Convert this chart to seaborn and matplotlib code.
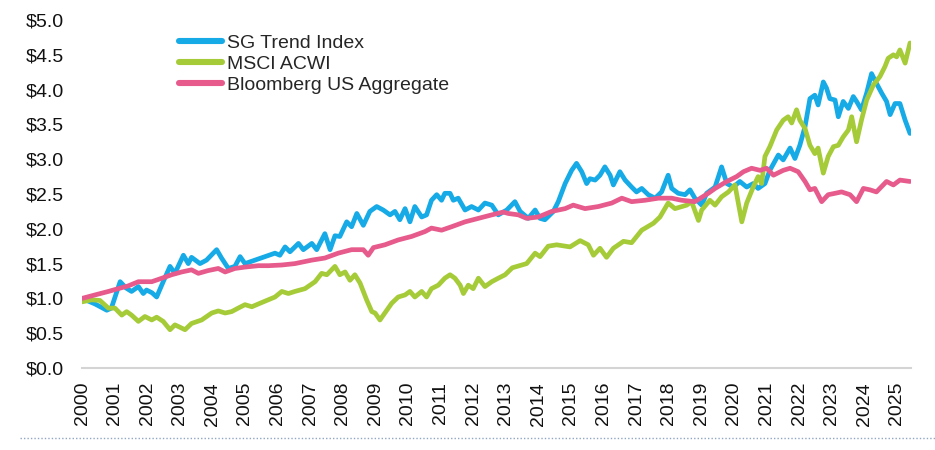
import numpy as np
import pandas as pd
import matplotlib
matplotlib.use("Agg")
import matplotlib.pyplot as plt
from matplotlib.lines import Line2D
import seaborn as sns

# ---------------- data ----------------
series_names = ["SG Trend Index", "MSCI ACWI", "Bloomberg US Aggregate"]
series_colors = ["#16AAE6", "#A6CB38", "#E65A8C"]

sg_years = [2000.00, 2000.40, 2000.76, 2000.90, 2001.17, 2001.35, 2001.52, 2001.73, 2001.88, 2001.98,
            2002.15, 2002.29, 2002.50, 2002.70, 2002.85, 2003.11, 2003.26, 2003.36, 2003.62, 2003.82,
            2004.13, 2004.28, 2004.49, 2004.69, 2004.85, 2005.00, 2005.31, 2005.61, 2005.92, 2006.07,
            2006.23, 2006.38, 2006.64, 2006.79, 2007.05, 2007.20, 2007.45, 2007.61, 2007.76, 2007.91,
            2008.12, 2008.27, 2008.43, 2008.63, 2008.83, 2009.04, 2009.24, 2009.45, 2009.60, 2009.75,
            2009.91, 2010.06, 2010.21, 2010.42, 2010.57, 2010.72, 2010.88, 2011.03, 2011.13, 2011.29,
            2011.39, 2011.54, 2011.75, 2011.95, 2012.16, 2012.36, 2012.57, 2012.77, 2013.03, 2013.28,
            2013.44, 2013.69, 2013.90, 2014.05, 2014.20, 2014.46, 2014.61, 2014.82, 2015.02, 2015.17,
            2015.33, 2015.48, 2015.58, 2015.74, 2015.89, 2016.04, 2016.20, 2016.30, 2016.50, 2016.66,
            2016.86, 2017.01, 2017.17, 2017.37, 2017.58, 2017.78, 2017.98, 2018.09, 2018.29, 2018.50,
            2018.65, 2018.80, 2019.01, 2019.16, 2019.42, 2019.62, 2019.78, 2019.98, 2020.18, 2020.39,
            2020.59, 2020.74, 2020.95, 2021.10, 2021.36, 2021.51, 2021.72, 2021.87, 2022.02, 2022.18,
            2022.33, 2022.48, 2022.58, 2022.74, 2022.84, 2022.94, 2023.10, 2023.20, 2023.35, 2023.51,
            2023.66, 2023.76, 2023.91, 2024.07, 2024.22, 2024.37, 2024.53, 2024.68, 2024.79, 2024.94,
            2025.09, 2025.25, 2025.40]
sg_values = [1.00, 0.92, 0.83, 0.86, 1.24, 1.15, 1.10, 1.17, 1.07, 1.12,
             1.08, 1.02, 1.25, 1.46, 1.36, 1.62, 1.50, 1.59, 1.50, 1.55,
             1.70, 1.58, 1.43, 1.46, 1.60, 1.50, 1.55, 1.60, 1.65, 1.62,
             1.74, 1.67, 1.79, 1.70, 1.79, 1.70, 1.93, 1.70, 1.90, 1.89,
             2.10, 2.03, 2.22, 2.05, 2.25, 2.32, 2.27, 2.20, 2.25, 2.13,
             2.29, 2.10, 2.32, 2.17, 2.20, 2.41, 2.49, 2.41, 2.51, 2.51,
             2.41, 2.44, 2.27, 2.32, 2.27, 2.37, 2.34, 2.20, 2.27, 2.39,
             2.25, 2.15, 2.27, 2.15, 2.13, 2.25, 2.39, 2.65, 2.84, 2.94,
             2.82, 2.65, 2.72, 2.70, 2.77, 2.89, 2.77, 2.63, 2.82, 2.70,
             2.60, 2.53, 2.58, 2.49, 2.44, 2.53, 2.77, 2.58, 2.51, 2.49,
             2.56, 2.44, 2.34, 2.51, 2.60, 2.89, 2.65, 2.60, 2.68, 2.60,
             2.65, 2.58, 2.65, 2.84, 3.06, 2.99, 3.16, 3.01, 3.20, 3.47,
             3.87, 3.92, 3.78, 4.11, 4.02, 3.87, 3.85, 3.61, 3.83, 3.73,
             3.90, 3.83, 3.71, 3.95, 4.23, 4.09, 3.95, 3.83, 3.64, 3.80,
             3.80, 3.56, 3.37]

acwi_years = [2000.00, 2000.30, 2000.55, 2000.81, 2001.01, 2001.22, 2001.37, 2001.52, 2001.73, 2001.93,
              2002.14, 2002.29, 2002.49, 2002.70, 2002.85, 2003.16, 2003.36, 2003.67, 2003.98, 2004.18,
              2004.39, 2004.59, 2004.79, 2005.00, 2005.21, 2005.46, 2005.72, 2005.92, 2006.13, 2006.33,
              2006.53, 2006.84, 2007.15, 2007.35, 2007.51, 2007.76, 2007.91, 2008.07, 2008.22, 2008.37,
              2008.53, 2008.73, 2008.89, 2008.99, 2009.14, 2009.35, 2009.50, 2009.70, 2009.91, 2010.06,
              2010.21, 2010.42, 2010.57, 2010.72, 2010.93, 2011.13, 2011.29, 2011.44, 2011.60, 2011.70,
              2011.85, 2012.00, 2012.16, 2012.36, 2012.57, 2012.77, 2012.98, 2013.20, 2013.49, 2013.64,
              2013.90, 2014.05, 2014.30, 2014.56, 2014.97, 2015.28, 2015.53, 2015.69, 2015.89, 2016.09,
              2016.30, 2016.61, 2016.86, 2017.17, 2017.53, 2017.73, 2017.98, 2018.19, 2018.55, 2018.70,
              2018.91, 2019.01, 2019.26, 2019.42, 2019.62, 2019.83, 2020.03, 2020.24, 2020.39, 2020.59,
              2020.74, 2020.85, 2020.95, 2021.10, 2021.31, 2021.51, 2021.66, 2021.77, 2021.92, 2022.02,
              2022.18, 2022.33, 2022.48, 2022.58, 2022.74, 2022.89, 2023.05, 2023.20, 2023.35, 2023.51,
              2023.61, 2023.76, 2023.91, 2024.07, 2024.28, 2024.48, 2024.63, 2024.73, 2024.89, 2024.99,
              2025.09, 2025.25, 2025.40]
acwi_values = [0.95, 0.98, 0.97, 0.86, 0.86, 0.76, 0.81, 0.76, 0.67, 0.74,
               0.69, 0.73, 0.67, 0.55, 0.62, 0.55, 0.64, 0.69, 0.79, 0.82,
               0.79, 0.81, 0.86, 0.91, 0.88, 0.93, 0.98, 1.02, 1.10, 1.07,
               1.10, 1.14, 1.24, 1.36, 1.34, 1.46, 1.34, 1.38, 1.26, 1.34,
               1.22, 0.98, 0.81, 0.79, 0.69, 0.83, 0.93, 1.02, 1.05, 1.10,
               1.02, 1.10, 1.02, 1.14, 1.19, 1.29, 1.34, 1.29, 1.19, 1.07,
               1.19, 1.14, 1.29, 1.17, 1.24, 1.29, 1.34, 1.44, 1.48, 1.50,
               1.65, 1.60, 1.75, 1.77, 1.74, 1.83, 1.77, 1.62, 1.72, 1.59,
               1.72, 1.82, 1.80, 1.98, 2.08, 2.17, 2.37, 2.29, 2.34, 2.39,
               2.12, 2.27, 2.41, 2.34, 2.46, 2.53, 2.63, 2.10, 2.37, 2.60,
               2.75, 2.65, 3.04, 3.18, 3.42, 3.56, 3.61, 3.52, 3.71, 3.56,
               3.44, 3.20, 3.08, 3.16, 2.80, 3.04, 3.18, 3.20, 3.32, 3.42,
               3.61, 3.25, 3.56, 3.85, 4.07, 4.19, 4.33, 4.45, 4.50, 4.47,
               4.57, 4.38, 4.67]

agg_years = [2000.00, 2000.40, 2000.81, 2001.11, 2001.42, 2001.73, 2002.14, 2002.45, 2002.75, 2003.06,
             2003.36, 2003.57, 2003.87, 2004.18, 2004.39, 2004.69, 2005.00, 2005.41, 2005.72, 2006.13,
             2006.53, 2007.05, 2007.45, 2007.86, 2008.27, 2008.63, 2008.78, 2008.94, 2009.29, 2009.70,
             2010.11, 2010.52, 2010.72, 2011.03, 2011.34, 2011.75, 2012.16, 2012.57, 2012.92, 2013.08,
             2013.39, 2013.64, 2014.00, 2014.41, 2014.82, 2015.07, 2015.43, 2015.84, 2016.25, 2016.56,
             2016.86, 2017.27, 2017.68, 2018.09, 2018.39, 2018.80, 2019.21, 2019.42, 2019.78, 2020.08,
             2020.29, 2020.54, 2020.80, 2021.00, 2021.21, 2021.51, 2021.72, 2021.97, 2022.18, 2022.33,
             2022.48, 2022.69, 2022.89, 2023.10, 2023.30, 2023.56, 2023.76, 2023.97, 2024.17, 2024.37,
             2024.68, 2024.89, 2025.09, 2025.40]
agg_values = [1.00, 1.05, 1.10, 1.14, 1.18, 1.24, 1.24, 1.29, 1.34, 1.38,
              1.41, 1.36, 1.40, 1.43, 1.38, 1.43, 1.45, 1.47, 1.47, 1.48,
              1.50, 1.55, 1.58, 1.65, 1.70, 1.70, 1.62, 1.73, 1.77, 1.84,
              1.89, 1.96, 2.01, 1.98, 2.03, 2.10, 2.15, 2.20, 2.24, 2.22,
              2.20, 2.15, 2.17, 2.25, 2.29, 2.34, 2.29, 2.32, 2.37, 2.44,
              2.39, 2.41, 2.44, 2.44, 2.41, 2.39, 2.51, 2.58, 2.68, 2.75,
              2.82, 2.87, 2.84, 2.87, 2.77, 2.84, 2.87, 2.82, 2.68, 2.56,
              2.58, 2.39, 2.49, 2.51, 2.53, 2.49, 2.39, 2.58, 2.56, 2.53,
              2.68, 2.63, 2.70, 2.68]

year_ticks = list(range(2000, 2026))
y_ticks = [0.0, 0.5, 1.0, 1.5, 2.0, 2.5, 3.0, 3.5, 4.0, 4.5, 5.0]

# ---------------- build table ----------------
frames = []
for name, xs, ys in zip(series_names,
                        [sg_years, acwi_years, agg_years],
                        [sg_values, acwi_values, agg_values]):
    frames.append(pd.DataFrame({"year": xs, "value": ys, "series": name}))
df = pd.concat(frames, ignore_index=True)

# ---------------- plot ----------------
sns.set_style("white")
plt.rcParams["font.family"] = ["Liberation Sans", "DejaVu Sans"]

W, H = 935, 450
fig = plt.figure(figsize=(W / 100, H / 100), dpi=100)
ax = fig.add_axes([82 / W, 1 - 368 / H, (911 - 82) / W, (368 - 20) / H])

palette = dict(zip(series_names, series_colors))
sns.lineplot(data=df, x="year", y="value", hue="series", hue_order=series_names,
             palette=palette, estimator=None, sort=False, linewidth=3.4, ax=ax,
             legend=False)

ax.set_xlim(2000, 2025.43)
ax.set_ylim(0, 5)
ax.set_xticks(year_ticks)
ax.set_xticklabels([str(y) for y in year_ticks], rotation=90, fontsize=14,
                   color="#111111")
ax.set_yticks(y_ticks)
ax.set_yticklabels([f"${v:.1f}" for v in y_ticks], fontsize=14, color="#111111")
ax.tick_params(axis="x", length=0, pad=10)
ax.tick_params(axis="y", length=0, pad=13)
ax.set_xlabel("")
ax.set_ylabel("")
for s in ["top", "right", "left"]:
    ax.spines[s].set_visible(False)
ax.spines["bottom"].set_color("#d4d4d4")
ax.spines["bottom"].set_linewidth(1.5)
ax.grid(False)

handles = [Line2D([0], [0], color=c, lw=4.4, solid_capstyle="round") for c in series_colors]
fig.legend(handles, series_names, loc="upper left",
           bbox_to_anchor=(179 / W, 1 - 34.5 / H), frameon=False, fontsize=14,
           handlelength=2.2, handletextpad=0.25, labelspacing=0.16, borderpad=0,
           borderaxespad=0)

# dotted separator line at the bottom of the figure
fig.add_artist(Line2D([20 / W, 1.0], [1 - 438 / H, 1 - 438 / H], transform=fig.transFigure,
                      color="#8FA6C4", lw=1.0, linestyle=(0, (1, 1.5))))

fig.savefig("out.png", dpi=100, facecolor="white")
